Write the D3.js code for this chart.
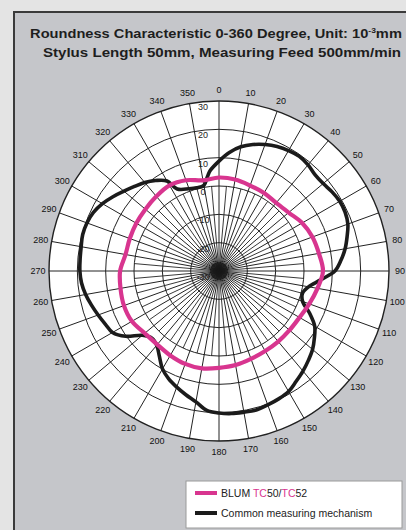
<!DOCTYPE html>
<html><head><meta charset="utf-8">
<script src="https://cdn.jsdelivr.net/npm/d3@7"></script>
<style>html,body{margin:0;padding:0;background:#e4e4e4;overflow:hidden}</style>
</head><body>
<svg id="chart" width="406" height="530"></svg>
<script>
// Polar grid ticks
const angleTicks = d3.range(0, 360, 10);
const ringTicks = [30, 20, 10, 0, -10, -20, -30];

// BLUM TC50/TC52 roundness, every 10 degrees (unit 10^-3 mm)
const blumAngles = d3.range(0, 360, 10);
const blumValues = [3.0, 2.8, 2.1, 1.8, 1.4, 2.1, 3.9, 5.1, 5.8, 6.7,
                    5.3, 3.9, 2.8, 2.5, 2.5, 2.6, 3.0, 3.7, 4.2, 4.9,
                    4.9, 4.4, 3.9, 4.2, 5.5, 5.7, 5.3, 4.9, 3.5, 3.5,
                    3.7, 3.9, 4.4, 4.9, 4.1, 2.5];

// Common measuring mechanism roundness
const commonAngles = [0, 5, 10, 15, 20, 25, 30, 35, 40, 45, 50, 55, 60, 65, 70, 75, 80, 85,
                      90, 95, 100, 105, 110, 115, 120, 125, 130, 135, 140, 145, 150, 155, 160, 165, 170, 175,
                      180, 185, 190, 195, 200, 205, 210, 215, 220, 225, 230, 235, 240, 245, 250, 255, 260, 265,
                      270, 275, 280, 285, 290, 295, 300, 305, 310, 315, 320, 325, 330, 333, 340, 345, 350, 353, 355];
const commonValues = [8.8, 12.0, 14.5, 16.2, 17.5, 18.5, 19.1, 19.4, 18.9, 18.0, 18.0, 18.7, 19.2, 19.1, 18.4, 16.8, 15.2, 13.2,
                      10.9, 6.0, 2.1, 0.5, 1.4, 5.3, 9.0, 11.1, 13.1, 14.6, 16.1, 17.5, 19.1, 19.8, 20.3, 20.8, 20.6, 20.5,
                      20.1, 19.4, 16.9, 15.2, 13.6, 12.0, 9.9, 6.7, 4.2, 3.5, 5.3, 10.2, 13.4, 14.3, 15.4, 16.6, 17.8, 18.7,
                      19.1, 19.2, 19.4, 19.8, 19.6, 18.9, 17.5, 15.7, 13.8, 12.2, 10.8, 9.0, 6.7, 2.5, 0.9, 0.4, 0.7, 3.5, 5.6];

const seriesNames = ["BLUM ", "Common measuring mechanism"];
const titleLines = ["Roundness Characteristic 0-360 Degree, Unit: 10", "Stylus Length 50mm, Measuring Feed 500mm/min"];

const pink = "#d8358f", ink = "#1b1b1b";
const svg = d3.select("#chart");

// panel
svg.append("rect").attr("x", 14).attr("y", 12).attr("width", 420).attr("height", 540)
  .attr("fill", "#c5c6ca").attr("stroke", "#3a3a3a").attr("stroke-width", 2);

// title (wide bold face)
const titleFont = g => g.attr("font-family", "Liberation Sans, Arial, sans-serif").attr("font-weight", "bold")
  .attr("font-size", 12).attr("fill", "#1e1e1e").attr("text-anchor", "middle");
const t1 = svg.append("g").attr("transform", "translate(216,0) scale(1.22,1)").call(titleFont)
  .append("text").attr("x", 0).attr("y", 38);
t1.append("tspan").text(titleLines[0]);
t1.append("tspan").attr("font-size", 7).attr("dy", -5).text("-3");
t1.append("tspan").attr("dy", 5).text("mm");
svg.append("g").attr("transform", "translate(222,0) scale(1.26,1)").call(titleFont)
  .append("text").attr("x", 0).attr("y", 57).text(titleLines[1]);

// polar plot
const cx = 219, cy = 271, R = 170;
const r = d3.scaleLinear().domain([-30, 30]).range([0, R]);
const rad = a => a * Math.PI / 180;
const g = svg.append("g").attr("transform", `translate(${cx},${cy})`);

g.append("circle").attr("r", R).attr("fill", "#fff");

// fine spokes near the centre
g.append("g").selectAll("line").data(d3.range(5, 360, 10)).join("line")
  .attr("x1", 0).attr("y1", 0)
  .attr("x2", a => r(0) * Math.sin(rad(a))).attr("y2", a => -r(0) * Math.cos(rad(a)))
  .attr("stroke", "#222").attr("stroke-width", 0.9);
// main spokes
g.append("g").selectAll("line").data(angleTicks).join("line")
  .attr("x1", 0).attr("y1", 0)
  .attr("x2", a => R * Math.sin(rad(a))).attr("y2", a => -R * Math.cos(rad(a)))
  .attr("stroke", "#222").attr("stroke-width", 1);
// rings
g.append("g").selectAll("circle").data(ringTicks.filter(v => v > -30)).join("circle")
  .attr("r", v => r(v)).attr("fill", "none").attr("stroke", "#222")
  .attr("stroke-width", v => v === 30 ? 1.4 : 1);
g.append("circle").attr("r", 9).attr("fill", "#111").attr("opacity", 0.6);

// ring labels
g.append("g").selectAll("text").data(ringTicks).join("text")
  .attr("x", -16).attr("y", v => -r(v) + 9)
  .attr("text-anchor", "middle").attr("font-family", "Liberation Sans, Arial, sans-serif")
  .attr("font-size", 9).attr("fill", "#222").text(v => v);

// angle labels
g.append("g").selectAll("text").data(angleTicks).join("text")
  .attr("x", a => 181 * Math.sin(rad(a))).attr("y", a => -181 * Math.cos(rad(a)) + 3)
  .attr("text-anchor", "middle").attr("font-family", "Liberation Sans, Arial, sans-serif")
  .attr("font-size", 9).attr("fill", "#111").text(a => a);

// series
const line = d3.lineRadial().curve(d3.curveCatmullRomClosed.alpha(0.5));
g.append("path")
  .attr("d", line(commonAngles.map((a, i) => [rad(a), r(commonValues[i])])))
  .attr("fill", "none").attr("stroke", ink).attr("stroke-width", 3.6).attr("stroke-linejoin", "round");
g.append("path")
  .attr("d", line(blumAngles.map((a, i) => [rad(a), r(blumValues[i])])))
  .attr("fill", "none").attr("stroke", pink).attr("stroke-width", 4.2).attr("stroke-linejoin", "round");

// legend
const lg = svg.append("g").attr("transform", "translate(186,481)");
lg.append("rect").attr("width", 216).attr("height", 47).attr("fill", "#fff").attr("stroke", "#9a9a9a");
lg.append("line").attr("x1", 9).attr("x2", 31).attr("y1", 12).attr("y2", 12).attr("stroke", pink).attr("stroke-width", 4);
lg.append("line").attr("x1", 9).attr("x2", 31).attr("y1", 32).attr("y2", 32).attr("stroke", ink).attr("stroke-width", 4);
const lt = lg.append("text").attr("x", 35).attr("y", 16).attr("font-family", "Liberation Sans, Arial, sans-serif")
  .attr("font-size", 10.5).attr("fill", "#222");
lt.append("tspan").text(seriesNames[0]);
lt.append("tspan").attr("fill", pink).text("TC");
lt.append("tspan").text("50/");
lt.append("tspan").attr("fill", pink).text("TC");
lt.append("tspan").text("52");
lg.append("text").attr("x", 35).attr("y", 36).attr("font-family", "Liberation Sans, Arial, sans-serif")
  .attr("font-size", 10.5).attr("fill", "#222").text(seriesNames[1]);
</script>
</body></html>
